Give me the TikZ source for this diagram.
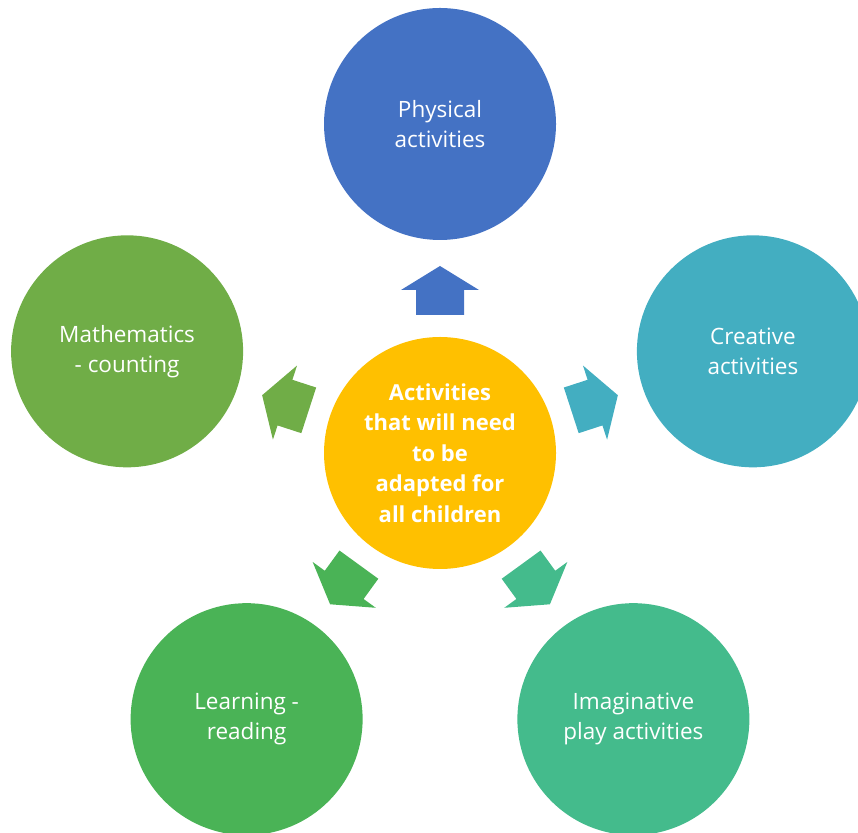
\documentclass[tikz,border=0pt]{standalone}
\usepackage{fontspec}
\setmainfont{Open Sans}
\definecolor{ccenter}{HTML}{FFC000}
\definecolor{cphys}{HTML}{4472C4}
\definecolor{ccreat}{HTML}{43AEC1}
\definecolor{cimag}{HTML}{44BB8C}
\definecolor{clearn}{HTML}{4AB356}
\definecolor{cmath}{HTML}{70AD47}
\begin{document}
\begin{tikzpicture}[x=1pt,y=1pt,
  bubble/.style={circle, minimum size=232pt, inner sep=0pt, text=white, align=center,
    font=\fontsize{22.5}{30}\selectfont},
  hub/.style={bubble, fill=ccenter, font=\fontsize{22}{30.5}\selectfont\bfseries}]
\useasboundingbox (0,0) rectangle (858,832);
\clip (0,0) rectangle (858,832);
\node[hub] (c) at (440,379) {Activities\\that will need\\to be\\adapted for\\all children};
\node[bubble, fill=cphys]  (phys)  at ([shift={(90:329)}]c.center)  {Physical\\activities};
\node[bubble, fill=ccreat] (creat) at ([shift={(18:329)}]c.center)  {Creative\\activities};
\node[bubble, fill=cimag]  (imag)  at ([shift={(-54:329)}]c.center) {Imaginative\\play activities};
\node[bubble, fill=clearn] (learn) at ([shift={(234:329)}]c.center) {Learning -\\reading};
\node[bubble, fill=cmath]  (math)  at ([shift={(162:329)}]c.center) {Mathematics\\- counting};
\foreach \ang/\col in {90/cphys, 18/ccreat, -54/cimag, 234/clearn, 162/cmath}{
  \begin{scope}[shift={(c.center)}, rotate=\ang]
    \fill[\col] (138,-24) -- (163,-24) -- (163,-39) -- (187,0) -- (163,39) -- (163,24) -- (138,24) -- cycle;
  \end{scope}
}
\end{tikzpicture}
\end{document}
